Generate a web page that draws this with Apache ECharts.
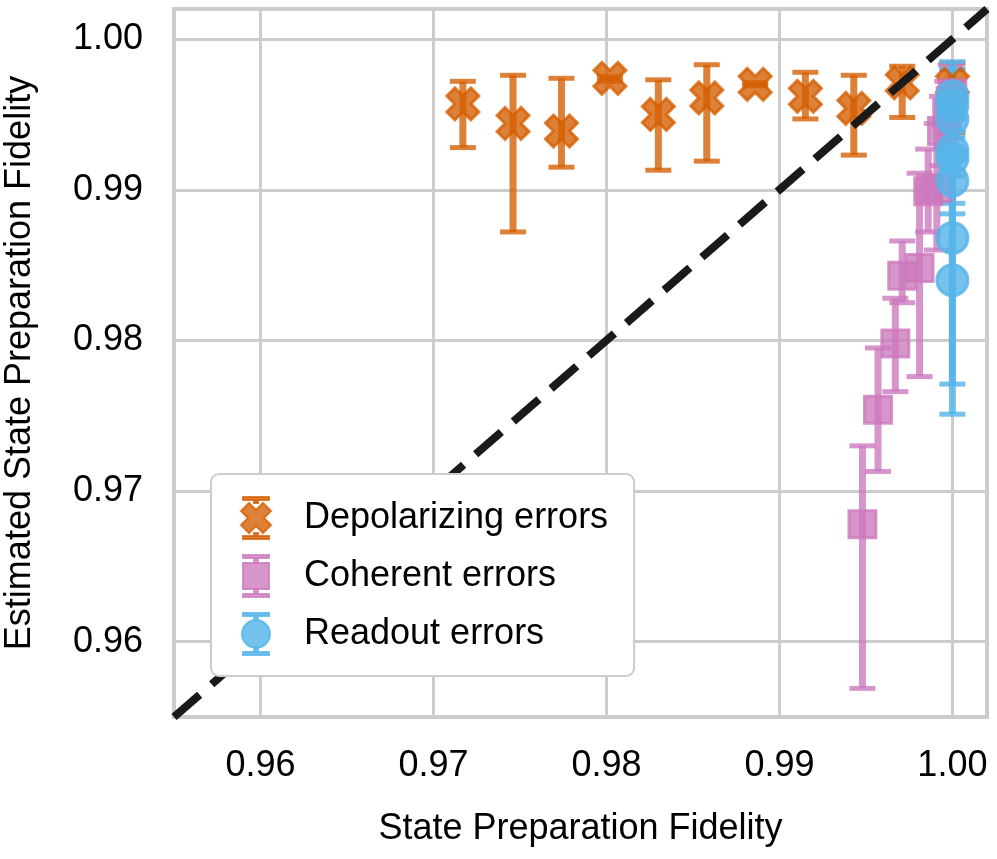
<!DOCTYPE html>
<html>
<head>
<meta charset="utf-8">
<script src="https://cdn.jsdelivr.net/npm/echarts@6/dist/echarts.min.js"></script>
<style>
  html, body { margin: 0; padding: 0; background: #fff; }
  #chart { width: 997px; height: 859px; }
</style>
</head>
<body>
<div id="chart"></div>
<script>
// tick labels shared by both axes
const tickValues = [0.96, 0.97, 0.98, 0.99, 1.00];
const axisRange = [0.955, 1.002];

// Depolarizing errors
const depolX = [0.9717, 0.9746, 0.9774, 0.9802, 0.9830, 0.9858, 0.9886, 0.9915, 0.9943, 0.9971, 1.0000];
const depolY = [0.9957, 0.9944, 0.9939, 0.9974, 0.9950, 0.9961, 0.9970, 0.9962, 0.9954, 0.9971, 0.9970];
const depolLo = [0.9928, 0.9872, 0.9915, 0.9972, 0.9913, 0.9919, 0.9969, 0.9947, 0.9923, 0.9948, 0.9938];
const depolHi = [0.9972, 0.9976, 0.9974, 0.9975, 0.9973, 0.9983, 0.9971, 0.9978, 0.9976, 0.9982, 0.9984];

// Coherent errors
const cohX = [0.9948, 0.9957, 0.9967, 0.9971, 0.9981, 0.9986, 0.9991, 0.9994, 0.9997, 0.9999, 1.0000];
const cohY = [0.9678, 0.9754, 0.9798, 0.9843, 0.9848, 0.9899, 0.9901, 0.9939, 0.9951, 0.9959, 0.9964];
const cohLo = [0.9569, 0.9713, 0.9766, 0.9825, 0.9776, 0.9872, 0.9860, 0.9916, 0.9929, 0.9934, 0.9947];
const cohHi = [0.9730, 0.9795, 0.9828, 0.9866, 0.9911, 0.9927, 0.9944, 0.9962, 0.9972, 0.9983, 0.9980];

// Readout errors
const readX = [1.0000, 1.0000, 1.0000, 1.0000, 1.0000, 1.0000, 1.0000, 1.0000];
const readY = [0.9962, 0.9956, 0.9947, 0.9926, 0.9921, 0.9906, 0.9868, 0.9840];
const readLo = [0.9947, 0.9940, 0.9935, 0.9913, 0.9884, 0.9891, 0.9751, 0.9771];
const readHi = [0.9980, 0.9971, 0.9959, 0.9939, 0.9957, 0.9921, 0.9985, 0.9909];

const names = ['Depolarizing errors', 'Coherent errors', 'Readout errors'];
const colors = ['rgba(213,94,0,0.78)', 'rgba(204,120,188,0.78)', 'rgba(86,180,233,0.82)'];

const xPath = 'path://M1,0L2,1L3,0L4,1L3,2L4,3L3,4L2,3L1,4L0,3L1,2L0,1Z';
const legendIcons = [
  'path://M2,0H28V3H2Z M13,3H17V6H13Z M8,6L15,13L22,6L30,14L23,21L30,28L22,36L15,29L8,36L0,28L7,21L0,14Z M13,36H17V39H13Z M2,39H28V42H2Z',
  'path://M2,0H28V3H2Z M13,3H17V8H13Z M2,8H28V34H2Z M13,34H17V39H13Z M2,39H28V42H2Z',
  'path://M2,0H28V3H2Z M13,3H17V7H13Z M15,7A14,14,0,1,1,14.99,7Z M13,35H17V39H13Z M2,39H28V42H2Z'
];

function pts(xs, ys) {
  return xs.map((x, i) => [x, ys[i]]);
}
function bars(xs, lo, hi) {
  return xs.map((x, i) => [x, lo[i], hi[i]]);
}

function errorSeries(name, data, color) {
  return {
    name: name + ' bars',
    type: 'custom',
    data: data,
    clip: true,
    renderItem: function (params, api) {
      const x = api.value(0);
      const lo = api.coord([x, api.value(1)]);
      const hi = api.coord([x, api.value(2)]);
      const half = 13;
      const st = { stroke: color, lineWidth: 7 };
      const cap = { stroke: color, lineWidth: 5 };
      return {
        type: 'group',
        children: [
          { type: 'line', shape: { x1: lo[0], y1: lo[1], x2: hi[0], y2: hi[1] }, style: st },
          { type: 'line', shape: { x1: lo[0] - half, y1: lo[1], x2: lo[0] + half, y2: lo[1] }, style: cap },
          { type: 'line', shape: { x1: hi[0] - half, y1: hi[1], x2: hi[0] + half, y2: hi[1] }, style: cap }
        ]
      };
    }
  };
}

function markerSeries(name, data, color, symbol, size) {
  return {
    name: name,
    type: 'scatter',
    data: data,
    symbol: symbol,
    symbolSize: size,
    itemStyle: { color: color, borderColor: color, borderWidth: 3, opacity: 1 },
    emphasis: { disabled: true }
  };
}

const font = '"Liberation Sans", Arial, sans-serif';
const fs = 36;

const chart = echarts.init(document.getElementById('chart'), null, { renderer: 'canvas' });

const option = {
  animation: false,
  backgroundColor: '#ffffff',
  grid: {
    left: 174, right: 10, top: 9, bottom: 142,
    outerBoundsMode: 'none', containLabel: false,
    show: true, borderColor: '#cccccc', borderWidth: 4, backgroundColor: 'transparent'
  },
  legend: {
    z: 20,
    orient: 'vertical',
    left: 211, top: 474,
    padding: [22, 26, 20, 29],
    itemWidth: 30, itemHeight: 42, itemGap: 14,
    backgroundColor: '#ffffff',
    borderColor: '#cccccc', borderWidth: 2, borderRadius: 8,
    textStyle: { fontFamily: font, fontSize: fs, color: '#000', padding: [0, 0, 0, 28] },
    data: names.map((n, i) => ({ name: n, icon: legendIcons[i] }))
  },
  xAxis: {
    type: 'value',
    min: axisRange[0], max: axisRange[1],
    name: 'State Preparation Fidelity',
    nameLocation: 'middle', nameGap: 94,
    nameTextStyle: { fontFamily: font, fontSize: fs, color: '#000' },
    axisLine: { show: true, lineStyle: { color: '#cccccc', width: 4 } },
    axisTick: { show: false, customValues: tickValues },
    axisLabel: {
      customValues: tickValues, margin: 31,
      fontFamily: font, fontSize: fs, color: '#000',
      formatter: v => v.toFixed(2)
    },
    splitLine: { show: true, lineStyle: { color: '#cccccc', width: 3 } }
  },
  yAxis: {
    type: 'value',
    min: axisRange[0], max: axisRange[1],
    name: 'Estimated State Preparation Fidelity',
    nameLocation: 'middle', nameGap: 136,
    nameTextStyle: { fontFamily: font, fontSize: fs, color: '#000' },
    axisLine: { show: true, lineStyle: { color: '#cccccc', width: 4 } },
    axisTick: { show: false, customValues: tickValues },
    axisLabel: {
      customValues: tickValues, margin: 31,
      fontFamily: font, fontSize: fs, color: '#000',
      formatter: v => v.toFixed(2)
    },
    splitLine: { show: true, lineStyle: { color: '#cccccc', width: 3 } }
  },
  series: [
    errorSeries(names[0], bars(depolX, depolLo, depolHi), colors[0]),
    markerSeries(names[0], pts(depolX, depolY), colors[0], xPath, 32),
    errorSeries(names[1], bars(cohX, cohLo, cohHi), colors[1]),
    markerSeries(names[1], pts(cohX, cohY), colors[1], 'rect', 27),
    errorSeries(names[2], bars(readX, readLo, readHi), colors[2]),
    markerSeries(names[2], pts(readX, readY), colors[2], 'circle', 31),
    {
      name: 'ideal',
      type: 'line',
      data: [[axisRange[0], axisRange[0]], [axisRange[1], axisRange[1]]],
      symbol: 'none',
      z: 3,
      lineStyle: { color: '#1a1a1a', width: 8, type: [34, 16] },
      emphasis: { disabled: true }
    }
  ]
};

chart.setOption(option);
</script>
</body>
</html>
